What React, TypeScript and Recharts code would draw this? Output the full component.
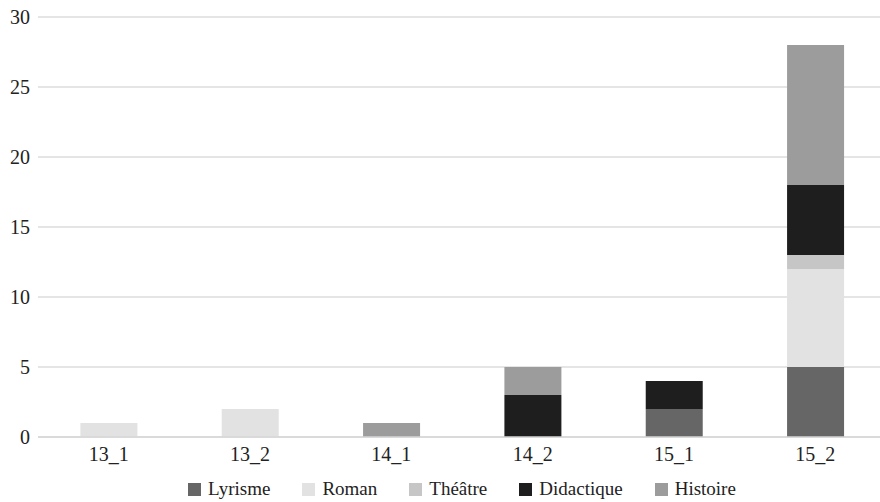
import React from 'react';
import { BarChart, Bar, XAxis, YAxis, CartesianGrid } from 'recharts';

const periods = ['13_1', '13_2', '14_1', '14_2', '15_1', '15_2'];
const lyrisme = [0, 0, 0, 0, 2, 5];
const roman = [1, 2, 0, 0, 0, 7];
const theatre = [0, 0, 0, 0, 0, 1];
const didactique = [0, 0, 0, 3, 2, 5];
const histoire = [0, 0, 1, 2, 0, 10];
const yTicks = [0, 5, 10, 15, 20, 25, 30];

const series = [
  { key: 'lyrisme', name: 'Lyrisme', color: '#666666', values: lyrisme },
  { key: 'roman', name: 'Roman', color: '#e2e2e2', values: roman },
  { key: 'theatre', name: 'Théâtre', color: '#c6c6c6', values: theatre },
  { key: 'didactique', name: 'Didactique', color: '#1e1e1e', values: didactique },
  { key: 'histoire', name: 'Histoire', color: '#9c9c9c', values: histoire },
];

const data = periods.map((p, i) => {
  const row: Record<string, string | number> = { period: p };
  series.forEach((s) => {
    row[s.key] = s.values[i];
  });
  return row;
});

const font = "'Liberation Serif', 'DejaVu Serif', serif";

export default function App() {
  return (
    <div style={{ position: 'absolute', left: 0, top: 0, width: 880, height: 502, overflow: 'hidden', background: '#fff', fontFamily: font }}>
      <BarChart
        width={886}
        height={470}
        data={data}
        margin={{ top: 17, right: 0, bottom: 0, left: 0 }}
        barCategoryGap="30%"
        style={{ fontFamily: font }}
      >
        <CartesianGrid vertical={false} stroke="#dcdcdc" strokeWidth={1.5} />
        <XAxis
          dataKey="period"
          axisLine={{ stroke: '#d6d6d6', strokeWidth: 1.5 }}
          tickLine={false}
          height={33}
          tickMargin={4}
          tick={{ fill: '#222', fontSize: 20, fontFamily: font }}
        />
        <YAxis
          domain={[0, 30]}
          ticks={yTicks}
          width={38}
          axisLine={false}
          tickLine={false}
          interval={0}
          tick={{ fill: '#222', fontSize: 20, fontFamily: font }}
        />
        {series.map((s) => (
          <Bar key={s.key} dataKey={s.key} name={s.name} stackId="a" fill={s.color} isAnimationActive={false} />
        ))}
      </BarChart>
      <div
        style={{
          position: 'absolute',
          top: 479,
          left: 0,
          width: 880,
          paddingLeft: 44,
          boxSizing: 'border-box',
          display: 'flex',
          justifyContent: 'center',
          gap: 32,
          fontSize: 19,
          lineHeight: '20px',
          color: '#222',
          fontFamily: font,
        }}
      >
        {series.map((s) => (
          <div key={s.key} style={{ display: 'flex', alignItems: 'center' }}>
            <span style={{ display: 'inline-block', width: 13, height: 13, background: s.color, marginRight: 7 }} />
            <span>{s.name}</span>
          </div>
        ))}
      </div>
    </div>
  );
}
